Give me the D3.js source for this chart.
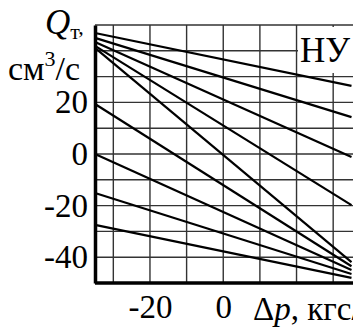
<!DOCTYPE html>
<html><head><meta charset="utf-8">
<script src="https://cdn.jsdelivr.net/npm/d3@7"></script>
<style>html,body{margin:0;padding:0;background:#fff;overflow:hidden}svg{display:block}</style>
</head><body>
<svg id="c" width="353" height="330"></svg>
<script>
// data
const xTicks = [-20, 0];
const yTicks = [20, 0, -20, -40];
const xGrid = [-30, -20, -10, 0, 10, 20, 30];
const yGrid = [50, 40, 30, 20, 10, 0, -10, -20, -30, -40];
const dpStart = [-35, -35, -35, -35, -35, -35, -35, -35, -35];
const dpEnd = [35, 35, 35, 35, 35, 35, 35, 35, 35];
const qStart = [46.9, 45.0, 43.4, 41.9, 41.1, 19.4, 0, -15.1, -27.5];
const qEnd = [26.4, 14.3, -1.2, -19.8, -41.9, -43.5, -45.0, -46.5, -48.0];

const svg = d3.select("#c");
const x = d3.scaleLinear().domain([-35, 35]).range([95, 351.5]);
const y = d3.scaleLinear().domain([-50, 50]).range([283, 25]);
const font = "'Liberation Serif', 'Times New Roman', serif";

const g = svg.append("g");
// grid
g.selectAll(".vg").data(xGrid).join("line")
  .attr("x1", d => x(d)).attr("x2", d => x(d)).attr("y1", y(50)).attr("y2", y(-50))
  .attr("stroke", "#333").attr("stroke-width", 1.4);
g.selectAll(".hg").data(yGrid).join("line")
  .attr("x1", x(-35)).attr("x2", 360).attr("y1", d => y(d)).attr("y2", d => y(d))
  .attr("stroke", "#333").attr("stroke-width", 1.4);

// label box
g.append("rect").attr("x", 298).attr("y", 27).attr("width", 60).attr("height", 46).attr("fill", "#fff");
g.append("text").attr("x", 300).attr("y", 62).attr("font-family", font).attr("font-size", 35)
  .text("НУ");

// lines
const lines = qStart.map((q, i) => [[dpStart[i], q], [dpEnd[i], qEnd[i]]]);
const lg = d3.line().x(d => x(d[0])).y(d => y(d[1]));
g.selectAll(".ln").data(lines).join("path")
  .attr("d", lg).attr("fill", "none").attr("stroke", "#000").attr("stroke-width", 2.2);

// axes
const fmt = d => String(d);
const yAxis = d3.axisLeft(y).tickValues(yTicks).tickSize(0).tickPadding(7).tickFormat(fmt);
const ya = svg.append("g").attr("transform", `translate(${x(-35)},0)`).call(yAxis);
ya.select(".domain").attr("stroke", "#000").attr("stroke-width", 3.5);
ya.selectAll("text").attr("font-family", font).attr("font-size", 33).attr("fill", "#000");

const xAxis = d3.axisBottom(x).tickValues(xTicks).tickSize(0).tickPadding(12).tickFormat(fmt);
const xa = svg.append("g").attr("transform", `translate(0,${y(-50)})`).call(xAxis);
xa.select(".domain").attr("stroke", "#000").attr("stroke-width", 3.5).attr("d", `M${x(-35)},0H360`);
xa.selectAll("text").attr("font-family", font).attr("font-size", 33).attr("fill", "#000");

// axis titles
const yt = svg.append("text").attr("font-family", font).attr("x", 45).attr("y", 34);
yt.append("tspan").attr("font-style", "italic").attr("font-size", 35).text("Q");
yt.append("tspan").attr("font-size", 22).attr("dy", 5).text("т");
yt.append("tspan").attr("font-size", 22).attr("dy", -5).text(",");
const yt2 = svg.append("text").attr("font-family", font).attr("x", 8).attr("y", 80).attr("font-size", 34);
yt2.append("tspan").text("см");
yt2.append("tspan").attr("font-size", 22).attr("dy", -14).text("3");
yt2.append("tspan").attr("dy", 14).text("/с");

const xt = svg.append("text").attr("font-family", font).attr("x", 253).attr("y", 320).attr("font-size", 33);
xt.append("tspan").text("Δ");
xt.append("tspan").attr("font-style", "italic").text("p");
xt.append("tspan").text(", кгс/см");
</script>
</body></html>
